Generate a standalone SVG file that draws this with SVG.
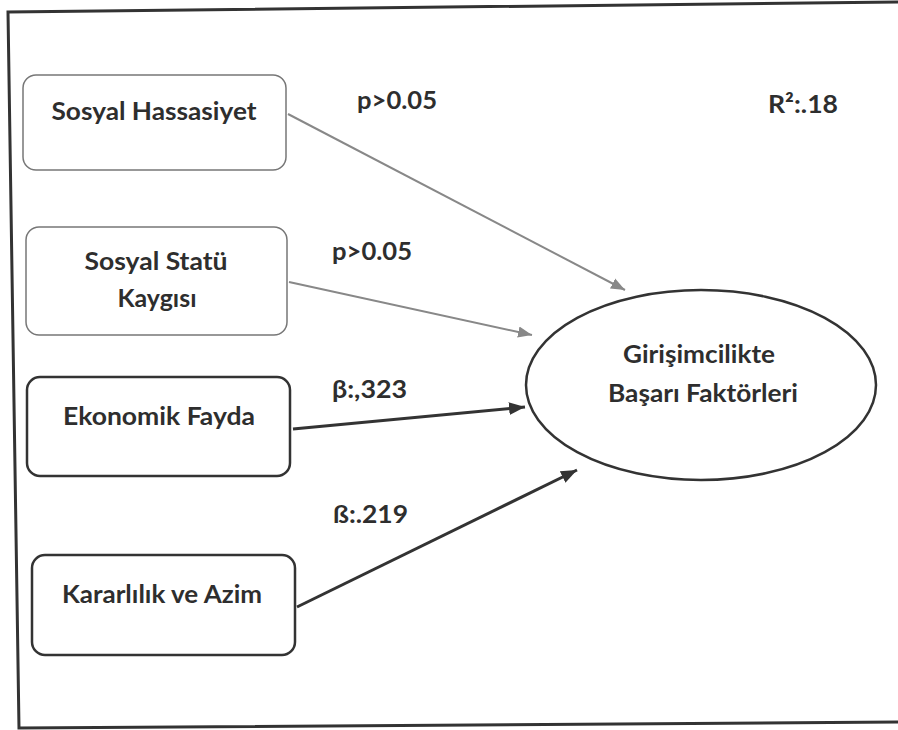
<svg xmlns="http://www.w3.org/2000/svg" width="898" height="730" viewBox="0 0 898 730">
<style>
text{font-family:Lato,"Open Sans","Liberation Sans",sans-serif;font-weight:bold;fill:#2e2e2e}
.n{font-size:24px}
.lb{font-size:24px}
.box-light{fill:#fff;stroke:#777;stroke-width:1.5}
.box-dark{fill:#fff;stroke:#333;stroke-width:2.5}
.c-light{stroke:#888;stroke-width:2;fill:none}
.c-dark{stroke:#333;stroke-width:3;fill:none}
</style>
<defs>
<marker id="ah-dark" viewBox="0 0 10 10" refX="10" refY="5" markerWidth="16" markerHeight="16" orient="auto" markerUnits="userSpaceOnUse">
<path d="M0,1 L10,5 L0,9 z" fill="#333"/>
</marker>
<marker id="ah-l" viewBox="0 0 10 10" refX="10" refY="5" markerWidth="14" markerHeight="14" orient="auto" markerUnits="userSpaceOnUse">
<path d="M0,1 L10,5 L0,9 z" fill="#888"/>
</marker>
</defs>
<rect width="898" height="730" fill="#fff"/>
<path d="M898,2 L8,12 L19,728 L898,722" fill="none" stroke="#333" stroke-width="3"/>
<g id="connectors">
<line class="c-light" x1="288" y1="114" x2="625" y2="290" marker-end="url(#ah-l)"/>
<line class="c-light" x1="289" y1="282" x2="532" y2="335" marker-end="url(#ah-l)"/>
<line class="c-dark" x1="293" y1="429" x2="525" y2="407" marker-end="url(#ah-dark)"/>
<line class="c-dark" x1="297" y1="607" x2="577" y2="470" marker-end="url(#ah-dark)"/>
</g>
<g id="n-sosyal-hassasiyet">
<rect class="box-light" x="23" y="75" width="263" height="95" rx="13"/>
<text class="n" x="154" y="120" text-anchor="middle" textLength="205" lengthAdjust="spacingAndGlyphs">Sosyal Hassasiyet</text>
</g>
<g id="n-sosyal-statu">
<rect class="box-light" x="26" y="227" width="261" height="108" rx="13"/>
<text class="n" x="156" y="270" text-anchor="middle" textLength="143" lengthAdjust="spacingAndGlyphs">Sosyal Statü</text>
<text class="n" x="157" y="307" text-anchor="middle" textLength="79" lengthAdjust="spacingAndGlyphs">Kaygısı</text>
</g>
<g id="n-ekonomik">
<rect class="box-dark" x="27" y="377" width="263" height="99" rx="13"/>
<text class="n" x="159" y="425" text-anchor="middle" textLength="192" lengthAdjust="spacingAndGlyphs">Ekonomik Fayda</text>
</g>
<g id="n-kararlilik">
<rect class="box-dark" x="32" y="555" width="263" height="100" rx="13"/>
<text class="n" x="162" y="603" text-anchor="middle" textLength="200" lengthAdjust="spacingAndGlyphs">Kararlılık ve Azim</text>
</g>
<g id="n-girisimcilik">
<ellipse cx="701" cy="385" rx="175" ry="95" fill="#fff" stroke="#333" stroke-width="2.5"/>
<text class="n" x="699" y="363" text-anchor="middle" textLength="152" lengthAdjust="spacingAndGlyphs">Girişimcilikte</text>
<text class="n" x="703" y="402" text-anchor="middle" textLength="190" lengthAdjust="spacingAndGlyphs">Başarı Faktörleri</text>
</g>
<g id="labels">
<text class="lb" x="357" y="109" textLength="80" lengthAdjust="spacingAndGlyphs">p&gt;0.05</text>
<text class="lb" x="332" y="260" textLength="80" lengthAdjust="spacingAndGlyphs">p&gt;0.05</text>
<text class="lb" x="332" y="398" textLength="75" lengthAdjust="spacingAndGlyphs">β:,323</text>
<text class="lb" x="333" y="523" textLength="75" lengthAdjust="spacingAndGlyphs">ß:.219</text>
<text class="lb" x="768" y="113" textLength="70" lengthAdjust="spacingAndGlyphs">R²:.18</text>
</g>
</svg>
